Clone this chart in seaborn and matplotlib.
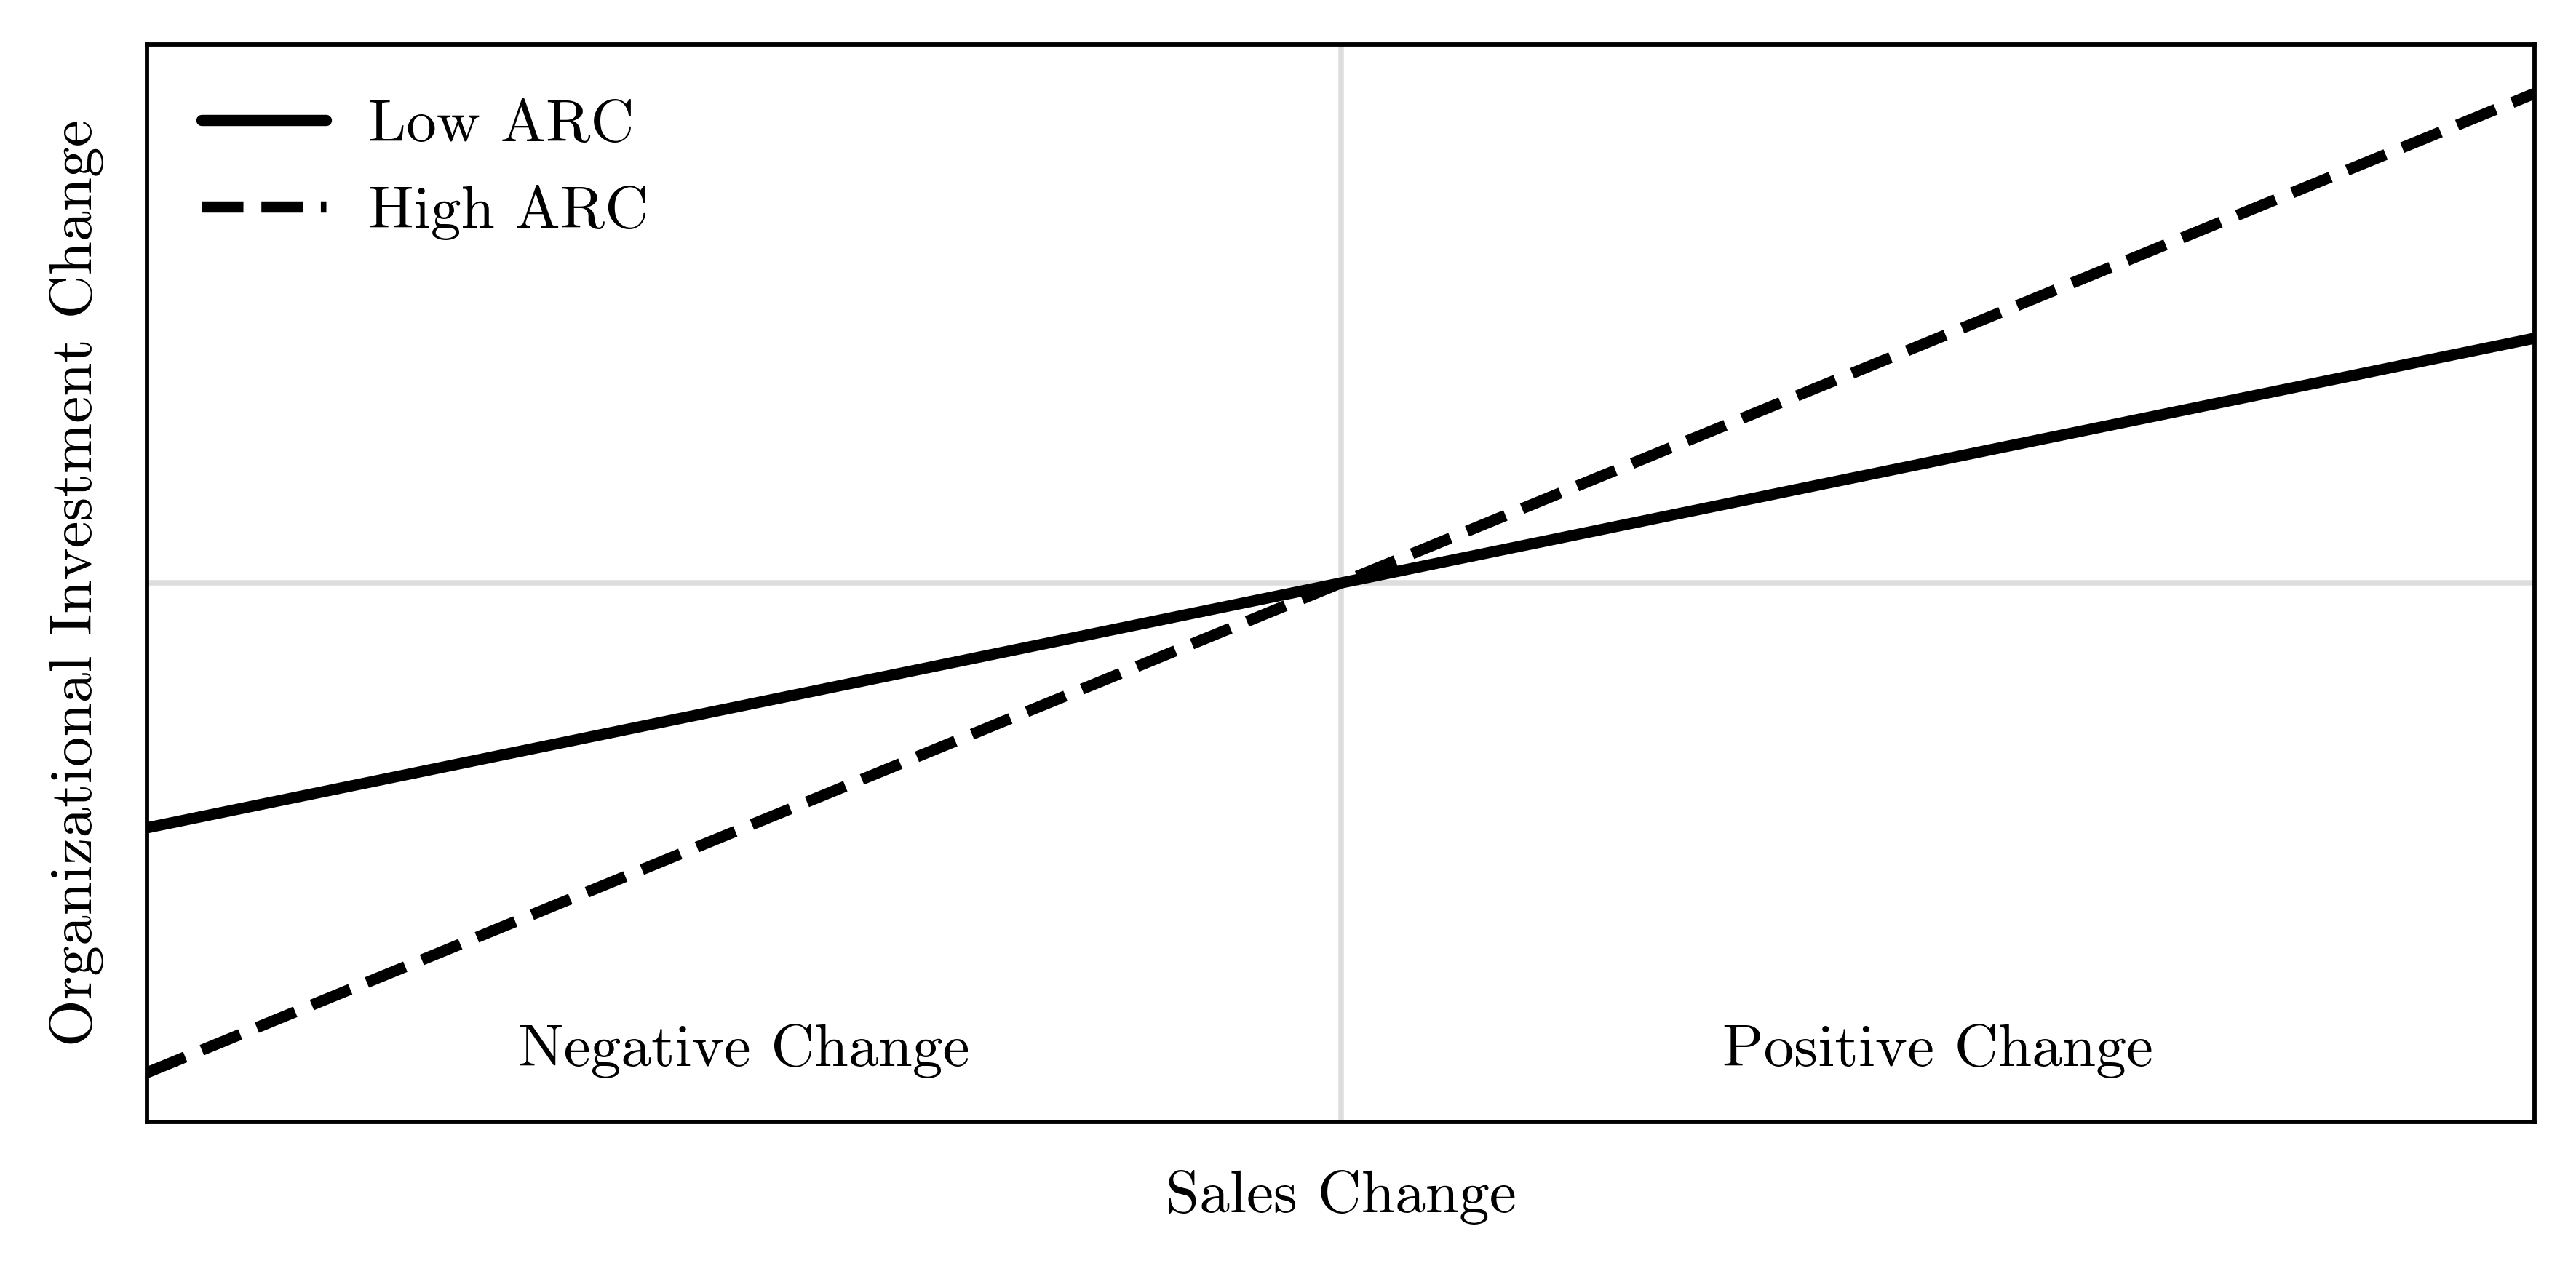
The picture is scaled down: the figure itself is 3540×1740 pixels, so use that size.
import pandas as pd
import matplotlib.pyplot as plt
import seaborn as sns

# interaction plot: sales change vs organizational investment change
sales_change = [-1.0, 1.0]
low_arc = [-0.5, 0.5]
high_arc = [-1.0, 1.0]
region_labels = ["Negative Change", "Positive Change"]
region_x = [-0.5, 0.5]
region_y = -0.955

df = pd.DataFrame({
    "x": sales_change * 2,
    "y": low_arc + high_arc,
    "group": ["Low ARC"] * 2 + ["High ARC"] * 2,
})

sns.set_style("white")
plt.rcParams["font.family"] = ["cmr10", "DejaVu Serif"]
plt.rcParams["mathtext.fontset"] = "cm"
plt.rcParams["axes.unicode_minus"] = False
plt.rcParams["axes.formatter.use_mathtext"] = True
plt.rcParams["text.color"] = "black"
plt.rcParams["axes.labelcolor"] = "black"

fig, ax = plt.subplots(figsize=(5.9, 2.9), dpi=600)
fig.subplots_adjust(left=0.057, right=0.984, bottom=0.114, top=0.965)

ax.axhline(0, color="#dddddd", lw=0.9, zorder=0)
ax.axvline(0, color="#dddddd", lw=0.9, zorder=0)

sns.lineplot(data=df[df.group == "Low ARC"], x="x", y="y", color="black",
             lw=1.85, label="Low ARC", ax=ax)
sns.lineplot(data=df[df.group == "High ARC"], x="x", y="y", color="black",
             lw=1.85, linestyle="--", label="High ARC", ax=ax)

for lab, xp in zip(region_labels, region_x):
    ax.text(xp, region_y, lab, ha="center", va="center", fontsize=10)

ax.set_xlim(-1, 1)
ax.set_ylim(-1.1, 1.1)
ax.set_xticks([])
ax.set_yticks([])
ax.set_xlabel("Sales Change", fontsize=10, labelpad=8)
ax.set_ylabel("Organizational Investment Change", fontsize=10, labelpad=7)
for s in ax.spines.values():
    s.set_color("black")
    s.set_linewidth(0.7)

ax.legend(loc="upper left", frameon=False, fontsize=10, handlelength=2.05,
          borderaxespad=0.5, labelspacing=0.53, handletextpad=0.7)

plt.savefig("out.png", dpi=600)
plt.close()
